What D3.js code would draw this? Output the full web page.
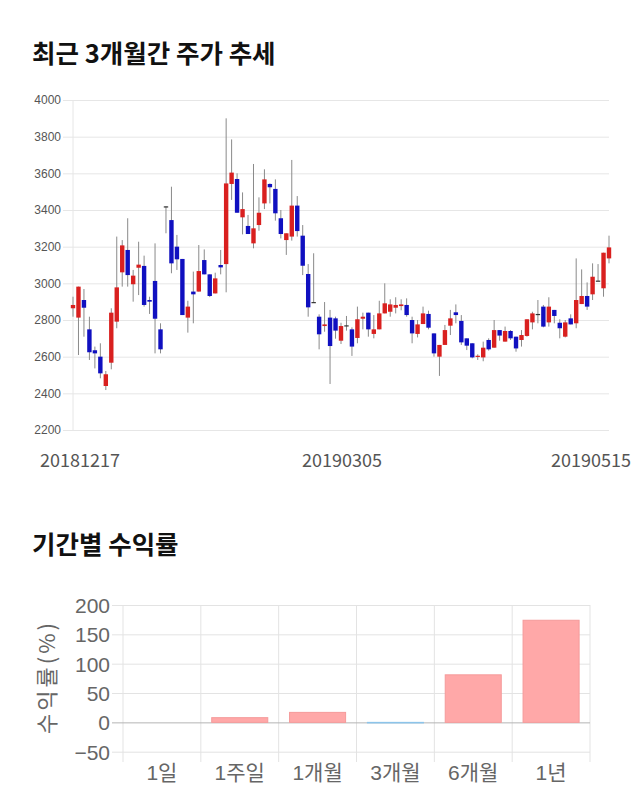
<!DOCTYPE html>
<html><head><meta charset="utf-8">
<script src="https://cdn.jsdelivr.net/npm/d3@7/dist/d3.min.js"></script>
<style>
html,body{margin:0;padding:0;background:#fff;}
svg{display:block;}
</style></head>
<body>
<svg id="c" width="640" height="810"></svg>
<script>
// ---- Candlestick data (trading days) ----
const dates = [
"20181217","20181218","20181219","20181220","20181221","20181224","20181226","20181227","20181228",
"20190102","20190103","20190104","20190107","20190108","20190109","20190110","20190111","20190114","20190115","20190116","20190117","20190118","20190121","20190122","20190123","20190124","20190125","20190128","20190129","20190130","20190131",
"20190201","20190207","20190208","20190211","20190212","20190213","20190214","20190215","20190218","20190219","20190220","20190221","20190222","20190225","20190226","20190227","20190228",
"20190304","20190305","20190306","20190307","20190308","20190311","20190312","20190313","20190314","20190315","20190318","20190319","20190320","20190321","20190322","20190325","20190326","20190327","20190328","20190329",
"20190401","20190402","20190403","20190404","20190405","20190408","20190409","20190410","20190411","20190412","20190415","20190416","20190417","20190418","20190419","20190422","20190423","20190424","20190425","20190426","20190429","20190430",
"20190502","20190503","20190507","20190508","20190509","20190510","20190513","20190514","20190515"];
const opens  = [2864,2813,2909,2749,2635,2600,2440,2567,2791,3060,3182,2995,3085,3095,2909,3013,2749,3420,3345,3200,3133,2813,2955,2955,3127,3049,2945,3100,3105,3542,3569,3360,3313,3218,3318,3436,3542,3515,3355,3236,3255,3424,3260,3051,2898,2818,2767,2813,2809,2687,2769,2749,2702,2807,2840,2724,2749,2836,2845,2867,2876,2882,2800,2724,2778,2833,2727,2600,2664,2769,2842,2795,2700,2673,2600,2596,2691,2649,2745,2682,2740,2709,2691,2713,2787,2831,2873,2787,2855,2785,2709,2809,2782,2887,2931,2940,3013,2973,3136];
const highs  = [2927,2982,2969,2818,2655,2673,2522,2864,3255,3236,3355,3073,3227,3151,2927,3218,2782,3420,3527,3264,3133,2905,3064,3209,3185,3049,3058,3182,3900,3785,3600,3496,3373,3651,3469,3622,3545,3567,3400,3273,3673,3476,3318,3105,3164,2831,2898,2855,2818,2785,2822,2760,2873,2840,2840,2827,2905,3000,2913,2924,2913,2918,2818,2800,2873,2851,2727,2664,2773,2855,2885,2827,2700,2673,2613,2682,2700,2800,2745,2764,2745,2709,2745,2804,2845,2909,2882,2924,2855,2804,2800,2831,3136,3076,3005,3109,3105,3167,3260];
const lows   = [2818,2609,2709,2582,2536,2482,2418,2531,2755,2982,2982,2900,2936,2873,2833,2618,2618,3273,3055,3073,2827,2731,2782,2955,3049,2925,2945,3049,2951,3455,3385,3267,3269,3191,3287,3405,3436,3342,3245,3155,3233,3255,3045,2818,2896,2640,2736,2451,2698,2669,2742,2604,2673,2749,2709,2700,2749,2836,2818,2836,2853,2818,2673,2705,2778,2749,2600,2495,2664,2718,2782,2664,2636,2591,2582,2575,2633,2649,2687,2682,2691,2627,2655,2709,2749,2782,2760,2764,2782,2700,2705,2776,2755,2887,2855,2909,3013,2927,3109];
const closes = [2882,2982,2867,2624,2618,2509,2504,2840,2978,3207,3045,3042,3102,2882,2900,2807,2640,3416,3109,3131,2827,2873,2940,3067,3049,2931,3027,3087,3545,3604,3385,3405,3269,3300,3385,3567,3524,3382,3269,3273,3424,3285,3096,2869,2896,2722,2776,2658,2742,2767,2771,2655,2804,2818,2749,2749,2836,2891,2885,2882,2885,2827,2727,2776,2836,2758,2618,2664,2745,2809,2827,2678,2660,2596,2605,2649,2640,2745,2715,2740,2700,2645,2718,2804,2836,2833,2764,2873,2822,2755,2787,2776,2909,2931,2873,3036,3015,3167,3196];
const priceTicks = [2200,2400,2600,2800,3000,3200,3400,3600,3800,4000];
const dateLabels = ["20181217","20190305","20190515"];

// ---- Returns data ----
const periods = ["1일","1주일","1개월","3개월","6개월","1년"];
const returns = [0, 8, 17, -1, 81, 174];
const returnTicks = [-50,0,50,100,150,200];

const svg = d3.select("#c");
const KR = "'Noto Sans CJK KR','Noto Sans',sans-serif";
const NUM = "'Liberation Sans','Noto Sans CJK KR',sans-serif";

// Titles
svg.append("text").attr("x",32).attr("y",63).text("최근 3개월간 주가 추세")
  .attr("font-family",KR).attr("font-weight","bold").attr("font-size",25.5).attr("fill","#111");
svg.append("text").attr("x",32).attr("y",554).text("기간별 수익률")
  .attr("font-family",KR).attr("font-weight","bold").attr("font-size",25.5).attr("fill","#111");

// ---- Candlestick chart ----
const x = d3.scalePoint().domain(dates).range([73,609]);
const y = d3.scaleLinear().domain([2200,4000]).range([430,100]);
const g1 = svg.append("g");
const yAx = d3.axisLeft(y).tickValues(priceTicks).tickSize(-546).tickPadding(2).tickFormat(d3.format("d"));
const ya = g1.append("g").attr("transform","translate(63,0)").call(yAx);
ya.select(".domain").remove();
ya.selectAll(".tick line").attr("stroke","#e6e6e6");
ya.selectAll(".tick text").attr("font-family",NUM).attr("font-size",12).attr("fill","#555");
g1.append("line").attr("x1",x(dates[0])).attr("x2",x(dates[0])).attr("y1",y(4000)).attr("y2",y(2200)).attr("stroke","#e6e6e6");

const cd = dates.map((d,i)=>({d,o:opens[i],h:highs[i],l:lows[i],c:closes[i]}));
const col = d => d.c > d.o ? "#d9201f" : (d.c < d.o ? "#1010c0" : "#333");
g1.selectAll(".wick").data(cd).enter().append("line")
  .attr("x1",d=>x(d.d)).attr("x2",d=>x(d.d)).attr("y1",d=>y(d.h)).attr("y2",d=>y(d.l))
  .attr("stroke","#8a8a8a").attr("stroke-width",1);
g1.selectAll(".body").data(cd).enter().append("rect")
  .attr("x",d=>x(d.d)-2.2).attr("width",4.4)
  .attr("y",d=>y(Math.max(d.o,d.c)))
  .attr("height",d=>Math.max(1.2, Math.abs(y(d.o)-y(d.c))))
  .attr("fill",d=>Math.abs(d.c-d.o)<5 ? "#333" : col(d));
// date labels
dateLabels.forEach(dl=>{
  let cx = x(dl);
  const w = 80;
  cx = Math.max(40 + w/2, Math.min(631 - w/2, cx + 1));
  svg.append("text").attr("x",cx).attr("y",467).attr("text-anchor","middle")
    .attr("font-family",KR).attr("font-size",18).attr("fill","#555").text(dl);
});

// ---- Returns bar chart ----
const xb = d3.scaleBand().domain(periods).range([123,590]).paddingInner(0).paddingOuter(0);
const yb = d3.scaleLinear().domain([-50,200]).range([751.7,605]);
const g2 = svg.append("g");
const bounds = periods.map(p=>xb(p)).concat([590]);
g2.selectAll(".vg").data(bounds).enter().append("line")
  .attr("x1",d=>d).attr("x2",d=>d).attr("y1",605).attr("y2",762).attr("stroke","#e3e3e3");
const yAx2 = d3.axisLeft(yb).tickValues(returnTicks).tickSize(-478).tickPadding(2);
const yb2 = g2.append("g").attr("transform","translate(112,0)").call(yAx2);
yb2.select(".domain").remove();
yb2.selectAll(".tick line").attr("stroke",d=>d===0?"#b5b5b5":"#e3e3e3");
yb2.selectAll(".tick text").attr("font-family",NUM).attr("font-size",21).attr("fill","#666").attr("dy","0.35em");
const bw = xb.bandwidth()*0.72;
g2.selectAll(".bar").data(periods).enter().append("rect")
  .attr("x",p=>xb(p)+(xb.bandwidth()-bw)/2).attr("width",bw)
  .attr("y",(p,i)=>yb(Math.max(0,returns[i])))
  .attr("height",(p,i)=>Math.abs(yb(returns[i])-yb(0)))
  .attr("fill",(p,i)=>returns[i]>=0?"#ffa8a8":"#9fd0f0")
  .attr("stroke",(p,i)=>returns[i]>=0?"#f59a9a":"#8cc4ea").attr("stroke-width",1);
g2.selectAll(".cl").data(periods).enter().append("text")
  .attr("x",p=>xb(p)+xb.bandwidth()/2).attr("y",780).attr("text-anchor","middle")
  .attr("font-family",NUM).attr("font-size",21).attr("fill","#666").text(p=>p);
svg.append("text").attr("transform","translate(55,677) rotate(-90)").attr("text-anchor","middle")
  .attr("font-family",KR).attr("font-size",22).attr("letter-spacing",3).attr("fill","#666").text("수익률(%)");
</script>
</body></html>
